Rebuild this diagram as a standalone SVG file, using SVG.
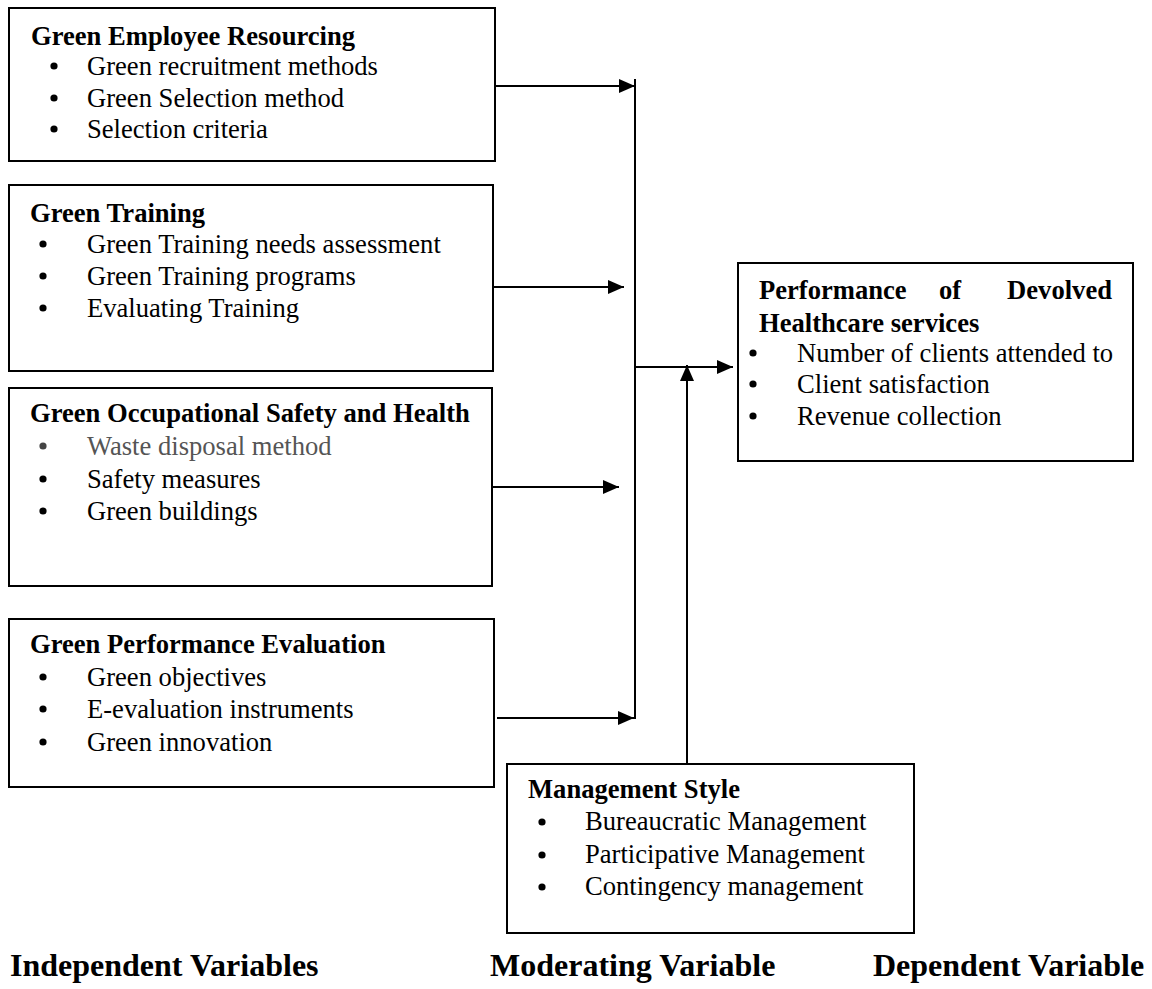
<svg xmlns="http://www.w3.org/2000/svg" width="1152" height="989" viewBox="0 0 1152 989">
<style>
.box{fill:#fff;stroke:#000;stroke-width:2}
.t{font-family:"Liberation Serif","Times New Roman",serif;font-size:26.6px;fill:#000}
.b{font-weight:bold}
.dot{fill:#000}
.lbl{font-family:"Liberation Serif","Times New Roman",serif;font-size:32px;font-weight:bold;fill:#000}
.ln{stroke:#000;stroke-width:2;fill:none}
</style>
<defs>
<marker id="ah" markerUnits="userSpaceOnUse" markerWidth="16" markerHeight="16" viewBox="0 0 16 16" refX="16" refY="8" orient="auto">
<path d="M0,1 L16,8 L0,15 Z" fill="#000"/>
</marker>
</defs>
<rect width="1152" height="989" fill="#fff"/>

<g id="connectors">
<line class="ln" x1="635" y1="79" x2="635" y2="719"/>
<line class="ln" x1="495" y1="86" x2="635" y2="86" marker-end="url(#ah)"/>
<line class="ln" x1="494" y1="287" x2="624" y2="287" marker-end="url(#ah)"/>
<line class="ln" x1="492" y1="487" x2="619" y2="487" marker-end="url(#ah)"/>
<line class="ln" x1="497" y1="718" x2="634" y2="718" marker-end="url(#ah)"/>
<line class="ln" x1="635" y1="367" x2="733" y2="367" marker-end="url(#ah)"/>
<line class="ln" x1="687" y1="764" x2="687" y2="365" marker-end="url(#ah)"/>
</g>

<g id="resourcing">
<rect class="box" x="9" y="8" width="486" height="153"/>
<text class="t b" x="31" y="45">Green Employee Resourcing</text>
<circle class="dot" cx="54" cy="66" r="3.6"/>
<text class="t" x="87" y="75">Green recruitment methods</text>
<circle class="dot" cx="54" cy="98" r="3.6"/>
<text class="t" x="87" y="107">Green Selection method</text>
<circle class="dot" cx="54" cy="129" r="3.6"/>
<text class="t" x="87" y="138">Selection criteria</text>
</g>

<g id="training">
<rect class="box" x="9" y="185" width="484" height="186"/>
<text class="t b" x="30" y="222">Green Training</text>
<circle class="dot" cx="43" cy="244" r="3.6"/>
<text class="t" x="87" y="253">Green Training needs assessment</text>
<circle class="dot" cx="43" cy="276" r="3.6"/>
<text class="t" x="87" y="285">Green Training programs</text>
<circle class="dot" cx="43" cy="308" r="3.6"/>
<text class="t" x="87" y="317">Evaluating Training</text>
</g>

<g id="safety">
<rect class="box" x="9" y="388" width="483" height="198"/>
<text class="t b" x="30" y="422">Green Occupational Safety and Health</text>
<circle cx="43" cy="446" r="3.6" fill="#444"/>
<text class="t" x="87" y="455" style="fill:#555">Waste disposal method</text>
<circle class="dot" cx="43" cy="479" r="3.6"/>
<text class="t" x="87" y="488">Safety measures</text>
<circle class="dot" cx="43" cy="511" r="3.6"/>
<text class="t" x="87" y="520">Green buildings</text>
</g>

<g id="evaluation">
<rect class="box" x="9" y="619" width="485" height="168"/>
<text class="t b" x="30" y="653">Green Performance Evaluation</text>
<circle class="dot" cx="43" cy="677" r="3.6"/>
<text class="t" x="87" y="686">Green objectives</text>
<circle class="dot" cx="43" cy="709" r="3.6"/>
<text class="t" x="87" y="718">E-evaluation instruments</text>
<circle class="dot" cx="43" cy="742" r="3.6"/>
<text class="t" x="87" y="751">Green innovation</text>
</g>

<g id="performance">
<rect class="box" x="738" y="263" width="395" height="198"/>
<text class="t b" x="759" y="299">Performance</text>
<text class="t b" x="939" y="299">of</text>
<text class="t b" x="1112" y="299" text-anchor="end">Devolved</text>
<text class="t b" x="759" y="332">Healthcare services</text>
<circle class="dot" cx="753" cy="353" r="3.6"/>
<text class="t" x="797" y="362">Number of clients attended to</text>
<circle class="dot" cx="753" cy="384" r="3.6"/>
<text class="t" x="797" y="393">Client satisfaction</text>
<circle class="dot" cx="753" cy="416" r="3.6"/>
<text class="t" x="797" y="425">Revenue collection</text>
</g>

<g id="management">
<rect class="box" x="507" y="764" width="407" height="169"/>
<text class="t b" x="528" y="798">Management Style</text>
<circle class="dot" cx="542" cy="822" r="3.6"/>
<text class="t" x="585" y="830">Bureaucratic Management</text>
<circle class="dot" cx="542" cy="855" r="3.6"/>
<text class="t" x="585" y="863">Participative Management</text>
<circle class="dot" cx="542" cy="887" r="3.6"/>
<text class="t" x="585" y="895">Contingency management</text>
</g>

<g id="labels">
<text class="lbl" x="10" y="976">Independent Variables</text>
<text class="lbl" x="490" y="976">Moderating Variable</text>
<text class="lbl" x="873" y="976">Dependent Variable</text>
</g>
</svg>
